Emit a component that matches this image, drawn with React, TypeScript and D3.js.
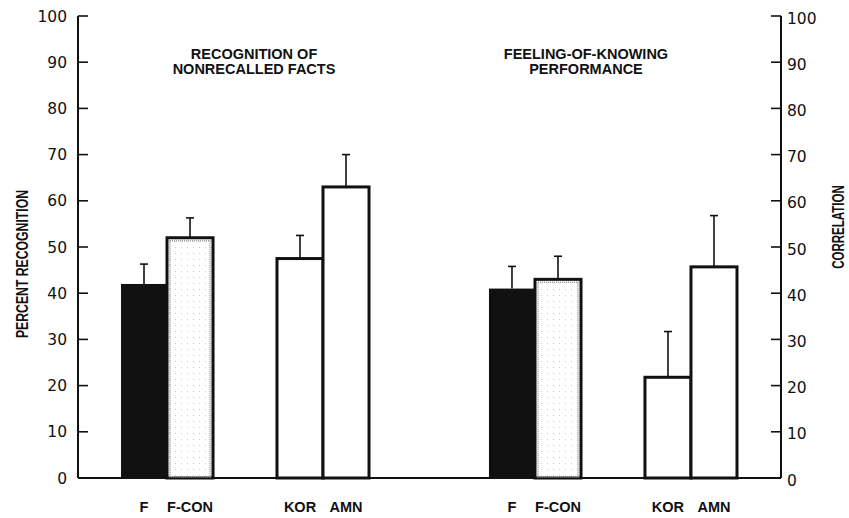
import React from "react";
import * as d3 from "d3";

// panels, groups and conditions
const panels = ["recognition", "fok"];
const panelTitles = [
  ["RECOGNITION OF", "NONRECALLED FACTS"],
  ["FEELING-OF-KNOWING", "PERFORMANCE"],
];
const groups = ["FRONTAL", "AMNESIC"];
const conditions = [
  ["F", "F-CON"],
  ["KOR", "AMN"],
];

// percent recognition of nonrecalled facts (left axis)
const recognition = [42, 52, 47.5, 63];
const recognitionErr = [4.3, 4.3, 5, 7];
// feeling-of-knowing correlation (right axis)
const fok = [41, 43, 21.8, 45.7];
const fokErr = [4.8, 5, 9.9, 11.1];

const ticks = [0, 10, 20, 30, 40, 50, 60, 70, 80, 90, 100];

const W = 849;
const H = 518;
const ink = "#111";
const font = "'Liberation Sans', Arial, sans-serif";
const numFont = "'DejaVu Sans', sans-serif";

export default function App() {
  const left = 78;
  const right = 781;
  const yScale = d3.scaleLinear().domain([0, 100]).range([478, 16]);

  const panelX = d3.scaleBand().domain(panels).range([121, 737]).paddingInner(0.326);
  const groupX = d3.scaleBand().domain(groups).range([0, panelX.bandwidth()]).paddingInner(0.41);

  const bars: any[] = [];
  panels.forEach((p, pi) => {
    const vals = pi === 0 ? recognition : fok;
    const errs = pi === 0 ? recognitionErr : fokErr;
    groups.forEach((g, gi) => {
      const condX = d3.scaleBand().domain(conditions[gi]).range([0, groupX.bandwidth()]);
      conditions[gi].forEach((c, ci) => {
        const k = gi * 2 + ci;
        bars.push({
          key: `${p}-${c}`,
          cond: c,
          x: (panelX(p) as number) + (groupX(g) as number) + (condX(c) as number),
          w: condX.bandwidth(),
          v: vals[k],
          e: errs[k],
        });
      });
    });
  });

  const y0 = yScale(0);

  return (
    <svg width={W} height={H} style={{ position: "absolute", left: 0, top: 0, background: "#fff" }}>
      {/* left axis */}
      <line x1={left} x2={left} y1={yScale(100)} y2={y0} stroke={ink} strokeWidth={2} />
      {ticks.map((t) => (
        <g key={"l" + t}>
          <line x1={left} x2={left + 10} y1={yScale(t)} y2={yScale(t)} stroke={ink} strokeWidth={1.6} />
          <text x={67} y={yScale(t)} dy="0.36em" textAnchor="end" fontFamily={numFont} fontSize={15.5} fill={ink}>
            {t}
          </text>
        </g>
      ))}
      {/* right axis */}
      <line x1={right} x2={right} y1={yScale(100)} y2={y0} stroke={ink} strokeWidth={2} />
      {ticks.map((t) => (
        <g key={"r" + t}>
          <line x1={right - 10} x2={right} y1={yScale(t)} y2={yScale(t)} stroke={ink} strokeWidth={1.6} />
          <text x={787} y={yScale(t) + 2} dy="0.36em" textAnchor="start" fontFamily={numFont} fontSize={15.5} fill={ink}>
            {t}
          </text>
        </g>
      ))}
      {/* baseline */}
      <line x1={left} x2={right} y1={y0} y2={y0} stroke={ink} strokeWidth={2} />

      {/* axis titles, squeezed along their length like the original lettering */}
      <text
        transform={`translate(22,264) rotate(-90) scale(0.72,1)`}
        textAnchor="middle"
        dy="0.36em"
        fontFamily={font}
        fontWeight="bold"
        fontSize={17}
        fill={ink}
      >
        PERCENT RECOGNITION
      </text>
      <text
        transform={`translate(838,227) rotate(-90) scale(0.72,1)`}
        textAnchor="middle"
        dy="0.36em"
        fontFamily={font}
        fontWeight="bold"
        fontSize={16}
        fill={ink}
      >
        CORRELATION
      </text>

      {/* panel titles */}
      {panels.map((p, pi) => {
        const cx = (panelX(p) as number) + panelX.bandwidth() / 2 + (pi === 0 ? 9 : -27);
        return panelTitles[pi].map((line, li) => (
          <text
            key={p + li}
            x={cx}
            y={54 + li * 15}
            dy="0.36em"
            textAnchor="middle"
            fontFamily={font}
            fontWeight="bold"
            fontSize={14.5}
            fill={ink}
          >
            {line}
          </text>
        ));
      })}

      {/* bars */}
      <defs>
        <pattern id="stipple" width="6" height="6" patternUnits="userSpaceOnUse">
          <rect width="6" height="6" fill="#fff" />
          <circle cx="1.5" cy="1.5" r="0.5" fill="#bbb" />
        </pattern>
      </defs>
      {bars.map((b) => {
        const top = yScale(b.v);
        const cx = b.x + b.w / 2;
        const et = yScale(b.v + b.e);
        return (
          <g key={b.key}>
            <line x1={cx} x2={cx} y1={top} y2={et} stroke={ink} strokeWidth={1.6} />
            <line x1={cx - 4} x2={cx + 4} y1={et} y2={et} stroke={ink} strokeWidth={1.6} />
            {b.cond === "F" ? (
              <rect x={b.x} y={top} width={b.w} height={y0 - top} fill={ink} />
            ) : b.cond === "F-CON" ? (
              <g>
                <rect x={b.x} y={top} width={b.w} height={y0 - top} fill="url(#stipple)" stroke={ink} strokeWidth={3} />
                <rect
                  x={b.x + 3}
                  y={top + 3}
                  width={b.w - 6}
                  height={y0 - top - 4}
                  fill="none"
                  stroke="#999"
                  strokeWidth={1.5}
                  strokeDasharray="1 1"
                />
              </g>
            ) : (
              <rect x={b.x} y={top} width={b.w} height={y0 - top} fill="#fff" stroke={ink} strokeWidth={3} />
            )}
            <text
              x={cx}
              y={507}
              dy="0.36em"
              textAnchor="middle"
              fontFamily={font}
              fontWeight="bold"
              fontSize={14.5}
              fill={ink}
            >
              {b.cond}
            </text>
          </g>
        );
      })}
    </svg>
  );
}
